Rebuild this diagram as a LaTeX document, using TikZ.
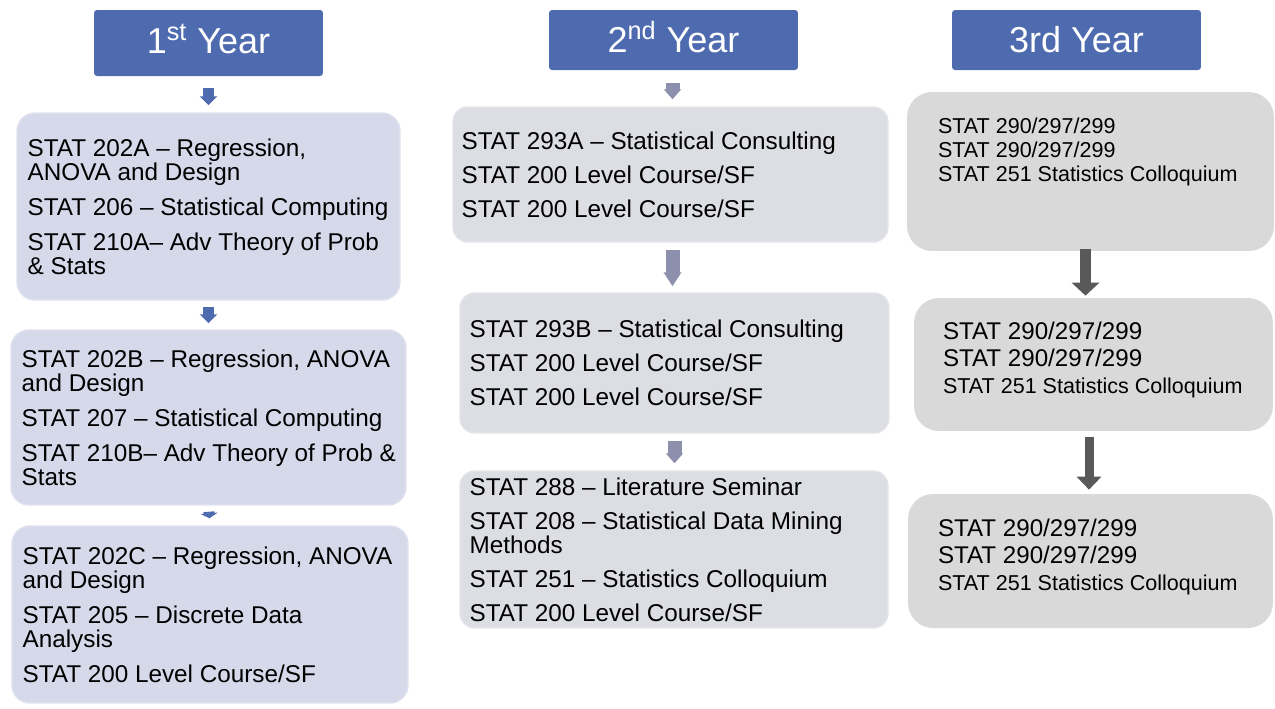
\documentclass[tikz,border=0pt]{standalone}
\usepackage{fontspec}
\setmainfont{Liberation Sans}
\usepackage{xcolor}
\usetikzlibrary{arrows.meta, positioning}
\definecolor{headerblue}{HTML}{4F6BAF}
\definecolor{lavfill}{HTML}{D6D9EA}
\definecolor{lavedge}{HTML}{DEE0EE}
\definecolor{greyfill}{HTML}{DCDEE4}
\definecolor{greyedge}{HTML}{E2E4EA}
\definecolor{greyarrow}{HTML}{8C90AD}
\definecolor{plainfill}{HTML}{D9D9D9}
\definecolor{darkarrow}{HTML}{595959}
\newlength{\pxu}
\setlength{\pxu}{0.02cm}

\begin{document}
\begin{tikzpicture}[
  x=0.02cm, y=-0.02cm,
  header/.style={rectangle, fill=headerblue, rounded corners=0.06cm, text=white, font=\fontsize{20.5pt}{22pt}\selectfont, text height=14.7pt, text depth=0pt},
  firstbox/.style={rectangle, fill=lavfill, draw=lavedge, line width=0.03cm, rounded corners=0.36cm},
  secondbox/.style={rectangle, fill=greyfill, draw=greyedge, line width=0.03cm, rounded corners=0.3cm},
  thirdbox/.style={rectangle, fill=plainfill, rounded corners=0.5cm},
  course/.style={align=left, inner sep=0pt, font=\fontsize{13.82pt}{13.66pt}\selectfont},
  bigcourse/.style={align=left, inner sep=0pt, font=\fontsize{13.75pt}{15.37pt}\selectfont},
  smallcourse/.style={align=left, inner sep=0pt, font=\fontsize{12.25pt}{13.66pt}\selectfont},
  bluearrow/.style={draw=headerblue, line width=0.22cm, -{Triangle[width=0.34cm, length=0.18cm]}},
  lavarrow/.style={draw=greyarrow, line width=0.28cm, -{Triangle[width=0.34cm, length=0.2cm]}},
  darkdown/.style={draw=darkarrow, line width=0.22cm, -{Triangle[width=0.54cm, length=0.26cm]}}
]
  \useasboundingbox (0,0) rectangle (1275,708);

  % Headers
  \node[header, minimum width=4.58cm, minimum height=1.32cm, text depth=0.1cm] (hdr1) at (208.5,43) {1\textsuperscript{st} Year};
  \node[header, minimum width=4.98cm, minimum height=1.2cm] (hdr2) at (673.5,40) {2\textsuperscript{nd} Year};
  \node[header, minimum width=4.98cm, minimum height=1.2cm] (hdr3) at (1076.5,40) {3rd Year};

  % 1st year
  \node[firstbox, minimum width=7.66cm, minimum height=3.74cm] (box1a) at (208.5,206.5) {};
  \node[firstbox, minimum width=7.9cm, minimum height=3.5cm] (box1b) at (208.5,417.5) {};
  \node[firstbox, minimum width=7.92cm, minimum height=3.54cm] (box1c) at (210,614.5) {};
  \node[course, right=0.22cm of box1a.west] (t1a) {STAT 202A – Regression,\\ANOVA and Design\\[11\pxu]STAT 206 – Statistical Computing\\[11\pxu]STAT 210A– Adv Theory of Prob\\\& Stats};
  \node[course, right=0.22cm of box1b.west] (t1b) {STAT 202B – Regression, ANOVA\\and Design\\[11\pxu]STAT 207 – Statistical Computing\\[11\pxu]STAT 210B– Adv Theory of Prob \&\\Stats};
  \node[course, right=0.22cm of box1c.west] (t1c) {STAT 202C – Regression, ANOVA\\and Design\\[11\pxu]STAT 205 – Discrete Data\\Analysis\\[11\pxu]STAT 200 Level Course/SF};

  % 2nd year
  \node[secondbox, minimum width=8.7cm, minimum height=2.7cm] (box2a) at (670.5,174.5) {};
  \node[secondbox, minimum width=8.58cm, minimum height=2.8cm] (box2b) at (674.5,363) {};
  \node[secondbox, minimum width=8.56cm, minimum height=3.14cm] (box2c) at (674,549.5) {};
  \node[course, right=0.18cm of box2a.west] (t2a) {STAT 293A – Statistical Consulting\\[10\pxu]STAT 200 Level Course/SF\\[10\pxu]STAT 200 Level Course/SF};
  \node[course, right=0.2cm of box2b.west] (t2b) {STAT 293B – Statistical Consulting\\[10\pxu]STAT 200 Level Course/SF\\[10\pxu]STAT 200 Level Course/SF};
  \node[course, right=0.2cm of box2c.west] (t2c) {STAT 288 – Literature Seminar\\[10\pxu]STAT 208 – Statistical Data Mining\\Methods\\[10\pxu]STAT 251 – Statistics Colloquium\\[10\pxu]STAT 200 Level Course/SF};

  % 3rd year
  \node[thirdbox, minimum width=7.34cm, minimum height=3.18cm] (box3a) at (1090.5,171.5) {};
  \node[thirdbox, minimum width=7.18cm, minimum height=2.66cm] (box3b) at (1093.5,364.5) {};
  \node[thirdbox, minimum width=7.3cm, minimum height=2.68cm] (box3c) at (1090.5,561) {};
  \node[smallcourse, right=0.62cm of box3a.west, yshift=0.39cm] (t3a) {STAT 290/297/299\\STAT 290/297/299\\STAT 251 Statistics Colloquium};
  \node[bigcourse, right=0.58cm of box3b.west, yshift=0.09cm] (t3b) {STAT 290/297/299\\STAT 290/297/299\\{\fontsize{12.25pt}{15.37pt}\selectfont STAT 251 Statistics Colloquium}};
  \node[bigcourse, right=0.6cm of box3c.west, yshift=0.09cm] (t3c) {STAT 290/297/299\\STAT 290/297/299\\{\fontsize{12.25pt}{15.37pt}\selectfont STAT 251 Statistics Colloquium}};

  % Arrows
  \draw[bluearrow, shorten <=0.24cm, shorten >=0.14cm] (hdr1.south) -- (box1a.north);
  \draw[bluearrow, shorten <=0.12cm, shorten >=0.12cm] (box1a.south) -- (box1b.north);
  \draw[draw=headerblue, line width=0.22cm, -{Triangle[width=0.34cm, length=0.1cm]}, shorten <=0.12cm, shorten >=0.14cm] (box1b.south) -- (box1c.north);
  \draw[lavarrow, shorten <=0.26cm, shorten >=0.14cm] ([xshift=-0.02cm]hdr2.south) -- ([xshift=-0.02cm]hdr2.south |- box2a.north);
  \draw[lavarrow, -{Triangle[width=0.34cm, length=0.28cm]}, shorten <=0.14cm, shorten >=0.12cm] ([xshift=0.04cm]box2a.south) -- ([xshift=0.04cm]box2a.south |- box2b.north);
  \draw[lavarrow, shorten <=0.14cm, shorten >=0.14cm] (box2b.south) -- (box2b.south |- box2c.north);
  \draw[darkdown, shorten <=-0.04cm, shorten >=0.04cm] ([xshift=-0.1cm]box3a.south) -- ([xshift=-0.1cm]box3a.south |- box3b.north);
  \draw[darkdown, line width=0.18cm, -{Triangle[width=0.48cm, length=0.26cm]}, shorten <=0.12cm, shorten >=0.08cm] ([xshift=-0.09cm]box3b.south) -- ([xshift=-0.09cm]box3b.south |- box3c.north);
\end{tikzpicture}
\end{document}
